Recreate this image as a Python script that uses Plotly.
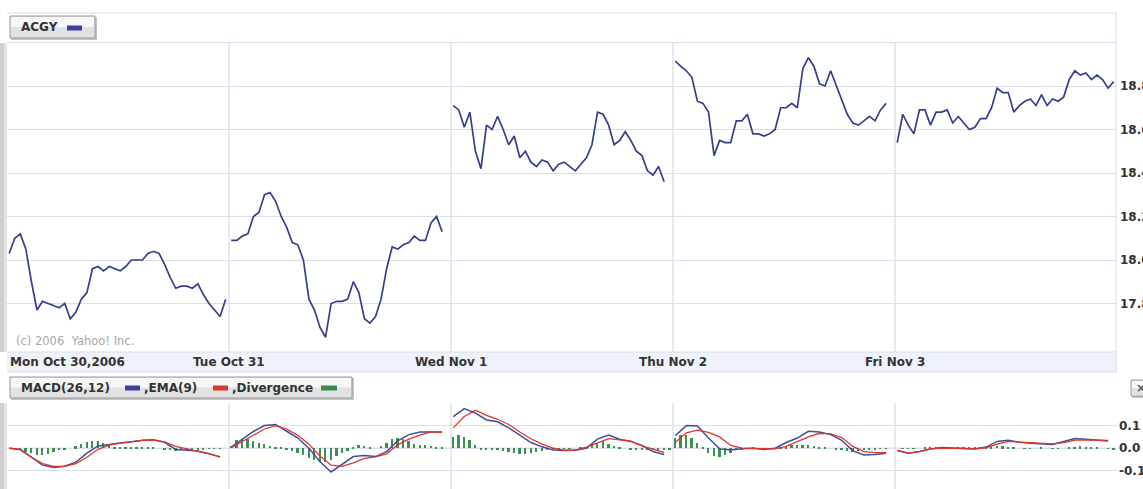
import plotly.graph_objects as go

# ---------------- data ----------------
day_labels = ["Mon Oct 30,2006", "Tue Oct 31", "Wed Nov 1", "Thu Nov 2", "Fri Nov 3"]
symbol = "ACGY"

# price every 10 minutes from 9:30 (40 samples per day, None = no trade)
price_mon = [18.03, 18.10, 18.12, 18.05, 17.90, 17.77, 17.81, 17.80, 17.79, 17.78,
             17.80, 17.73, 17.76, 17.82, 17.85, 17.96, 17.97, 17.95, 17.97, 17.96,
             17.95, 17.97, 18.00, 18.00, 18.00, 18.03, 18.04, 18.03, 17.98, 17.92,
             17.87, 17.88, 17.88, 17.87, 17.89, 17.84, 17.80, 17.77, 17.74, 17.82]
price_tue = [18.09, 18.09, 18.11, 18.12, 18.20, 18.22, 18.30, 18.31, 18.27, 18.20,
             18.15, 18.08, 18.07, 18.00, 17.82, 17.77, 17.69, 17.645, 17.80, 17.81,
             17.81, 17.82, 17.90, 17.85, 17.73, 17.71, 17.74, 17.82, 17.96, 18.06,
             18.05, 18.07, 18.08, 18.11, 18.09, 18.09, 18.17, 18.20, 18.13, None]
price_wed = [18.71, 18.69, 18.61, 18.68, 18.50, 18.42, 18.62, 18.60, 18.66, 18.60,
             18.53, 18.57, 18.47, 18.50, 18.45, 18.43, 18.46, 18.45, 18.41, 18.44,
             18.45, 18.43, 18.41, 18.44, 18.47, 18.53, 18.68, 18.67, 18.62, 18.53,
             18.55, 18.59, 18.55, 18.50, 18.48, 18.41, 18.39, 18.43, 18.36, None]
price_thu = [18.915, 18.89, 18.87, 18.84, 18.73, 18.72, 18.68, 18.48, 18.55, 18.54,
             18.54, 18.64, 18.64, 18.67, 18.58, 18.58, 18.57, 18.58, 18.60, 18.70,
             18.70, 18.72, 18.70, 18.88, 18.93, 18.89, 18.81, 18.80, 18.87, 18.80,
             18.73, 18.67, 18.63, 18.62, 18.64, 18.66, 18.64, 18.69, 18.72, None]
price_fri = [18.54, 18.67, 18.62, 18.58, 18.69, 18.69, 18.62, 18.68, 18.68, 18.69,
             18.63, 18.66, 18.63, 18.60, 18.61, 18.65, 18.65, 18.70, 18.79, 18.77,
             18.77, 18.68, 18.71, 18.73, 18.74, 18.71, 18.76, 18.71, 18.74, 18.73,
             18.75, 18.83, 18.87, 18.85, 18.86, 18.83, 18.85, 18.83, 18.79, 18.82]

# MACD(26,12) and EMA(9) every 20 minutes from 9:30 (20 samples per day)
macd_mon = [0.0, -0.007, -0.04, -0.075, -0.085, -0.08, -0.062, -0.022, 0.01, 0.018,
            0.023, 0.029, 0.035, 0.037, 0.026, -0.006, -0.01, -0.012, -0.024, -0.039]
macd_tue = [0.005, 0.04, 0.074, 0.10, 0.105, 0.075, 0.045, 0.0, -0.06, -0.105,
            -0.07, -0.037, -0.032, -0.037, -0.015, 0.033, 0.06, 0.072, 0.072, 0.072]
macd_wed = [0.14, 0.175, 0.155, 0.125, 0.117, 0.09, 0.058, 0.025, 0.006, -0.008,
            -0.01, -0.009, 0.0, 0.04, 0.058, 0.04, 0.03, 0.012, -0.015, -0.028]
macd_thu = [0.055, 0.10, 0.098, 0.045, -0.003, -0.008, -0.002, 0.0, -0.006, 0.0,
            0.025, 0.045, 0.075, 0.072, 0.06, 0.035, -0.012, -0.03, -0.028, -0.022]
macd_fri = [-0.01, -0.022, -0.015, -0.004, 0.003, 0.0, -0.003, -0.003, 0.005, 0.03,
            0.035, 0.026, 0.022, 0.02, 0.016, 0.03, 0.043, 0.04, 0.037, 0.032]

ema_mon = [0.0, -0.004, -0.04, -0.068, -0.08, -0.08, -0.068, -0.04, -0.005, 0.014,
           0.022, 0.029, 0.035, 0.036, 0.028, 0.008, -0.002, -0.013, -0.025, -0.038]
ema_tue = [0.002, 0.03, 0.06, 0.085, 0.10, 0.085, 0.057, 0.018, -0.035, -0.075,
           -0.08, -0.065, -0.045, -0.038, -0.025, 0.015, 0.04, 0.058, 0.072, 0.07]
ema_wed = [0.09, 0.14, 0.168, 0.145, 0.128, 0.105, 0.072, 0.042, 0.018, 0.0,
           -0.009, -0.008, 0.005, 0.025, 0.042, 0.037, 0.031, 0.01, -0.005, -0.018]
ema_thu = [0.025, 0.068, 0.08, 0.07, 0.05, 0.012, 0.0, -0.002, -0.004, -0.003,
           0.008, 0.028, 0.05, 0.066, 0.063, 0.047, 0.008, -0.015, -0.02, -0.02]
ema_fri = [-0.01, -0.022, -0.015, -0.003, 0.0, 0.0, -0.003, -0.003, 0.002, 0.018,
           0.03, 0.027, 0.022, 0.022, 0.019, 0.025, 0.036, 0.037, 0.037, 0.034]

# Divergence every 10 minutes from 9:30 (40 samples per day)
div_mon = [0.0, -0.003, -0.008, -0.015, -0.022, -0.028, -0.03, -0.025, -0.018, -0.01,
           -0.004, 0.0, 0.008, 0.018, 0.028, 0.034, 0.03, 0.022, 0.012, 0.006,
           0.004, 0.003, 0.002, 0.002, 0.002, 0.001, 0.001, 0.0, -0.004, -0.01,
           -0.012, -0.01, -0.009, -0.007, -0.005, -0.004, -0.003, -0.002, -0.001, 0.0]
div_tue = [0.01, 0.035, 0.042, 0.04, 0.032, 0.025, 0.018, 0.01, 0.005, 0.002,
           -0.005, -0.012, -0.02, -0.03, -0.042, -0.052, -0.06, -0.062, -0.05, -0.035,
           -0.02, -0.012, 0.005, 0.012, 0.01, 0.004, 0.0, 0.01, 0.025, 0.04,
           0.045, 0.04, 0.03, 0.02, 0.015, 0.012, 0.01, 0.005, 0.003, 0.0]
div_wed = [0.05, 0.06, 0.05, 0.035, 0.015, -0.004, -0.006, -0.004, -0.008, -0.014,
           -0.018, -0.022, -0.025, -0.025, -0.022, -0.018, -0.012, -0.008, -0.005, -0.003,
           -0.002, -0.001, 0.0, 0.002, 0.006, 0.015, 0.025, 0.03, 0.02, 0.01,
           0.003, 0.0, -0.004, -0.006, -0.008, -0.01, -0.01, -0.008, -0.006, -0.004]
div_thu = [0.045, 0.06, 0.058, 0.045, 0.025, 0.005, -0.02, -0.033, -0.037, -0.03,
           -0.02, -0.01, -0.004, 0.0, 0.002, 0.0, -0.002, -0.002, 0.0, 0.003,
           0.008, 0.012, 0.015, 0.015, 0.014, 0.01, 0.007, 0.004, 0.0, -0.004,
           -0.008, -0.012, -0.015, -0.014, -0.01, -0.008, -0.005, -0.003, -0.002, 0.0]
div_fri = [0.0, -0.002, -0.003, -0.002, 0.0, 0.001, 0.002, 0.001, 0.0, -0.001,
           0.0, 0.001, 0.002, 0.002, 0.003, 0.004, 0.006, 0.008, 0.01, 0.008,
           0.005, 0.002, 0.0, -0.002, -0.002, 0.0, 0.001, 0.0, -0.001, -0.002,
           0.0, 0.003, 0.006, 0.008, 0.006, 0.004, 0.002, 0.0, -0.002, -0.004]

price_ticks = [17.8, 18.0, 18.2, 18.4, 18.6, 18.8, 19.0]
price_ticktext = ["17.8", "18.0", "18.2", "18.4", "18.6", "18.8", ""]
macd_ticks = [-0.1, 0.0, 0.1, 0.2]
macd_ticktext = ["-0.1", "0.0", "0.1", ""]

# ---------------- layout constants ----------------
W, H = 1143, 489
L, R = 7, 1117          # plot area left/right in pixels
PW = R - L
SLOT = 400              # minutes per day slot on the x axis
PAD = 4                 # 9:30 open sits 4 minutes into the slot

def fx(px):
    return (px - L) / PW

def fy(py):
    return 1 - py / H

def build_xy(days, step):
    xs, ys = [], []
    for d, vals in enumerate(days):
        for k, v in enumerate(vals):
            xs.append(d * SLOT + PAD + step * k)
            ys.append(v)
        xs.append(None)
        ys.append(None)
    return xs, ys

px_x, px_y = build_xy([price_mon, price_tue, price_wed, price_thu, price_fri], 10)
m_x, m_y = build_xy([macd_mon, macd_tue, macd_wed, macd_thu, macd_fri], 20)
e_x, e_y = build_xy([ema_mon, ema_tue, ema_wed, ema_thu, ema_fri], 20)
d_x, d_y = build_xy([div_mon, div_tue, div_wed, div_thu, div_fri], 10)
d_pairs = [(a, b) for a, b in zip(d_x, d_y) if a is not None]

GRID = "#d9ddee"
VGRID = "#cdd4e4"
TXT = "#333333"
FONT = "DejaVu Sans"

fig = go.Figure()
fig.add_trace(go.Bar(x=[p[0] for p in d_pairs], y=[p[1] for p in d_pairs],
                     xaxis="x2", yaxis="y2", width=3.2,
                     marker=dict(color="#3f8f52", line=dict(width=0)),
                     showlegend=False, hoverinfo="skip"))
fig.add_trace(go.Scatter(x=m_x, y=m_y, xaxis="x2", yaxis="y2", mode="lines",
                         line=dict(color="#3d4f9f", width=1.5), connectgaps=False,
                         showlegend=False))
fig.add_trace(go.Scatter(x=e_x, y=e_y, xaxis="x2", yaxis="y2", mode="lines",
                         line=dict(color="#e0352b", width=1.3), connectgaps=False,
                         showlegend=False))
fig.add_trace(go.Scatter(x=px_x, y=px_y, mode="lines",
                         line=dict(color="#343f8d", width=1.7), connectgaps=False,
                         showlegend=False))

P_TOP, P_BOT = 13, 352
M_TOP = 403
p_lo = 18.8 - (P_BOT - 86) * 0.2 / 43.5
p_hi = 18.8 + (86 - P_TOP) * 0.2 / 43.5
m_hi = 0.2
m_lo = 0.2 - (H - M_TOP) * 0.1 / 22.6

tickfont = dict(family=FONT, size=12, color=TXT, weight="bold")

shapes = []
# left gray edge
for y0, y1 in [(43, P_BOT), (M_TOP, H)]:
    shapes.append(dict(type="rect", xref="paper", yref="paper", x0=fx(0), x1=fx(7),
                       y0=fy(y1), y1=fy(y0), fillcolor="#cfcfcf", line=dict(width=0), layer="below"))
    shapes.append(dict(type="rect", xref="paper", yref="paper", x0=fx(4), x1=fx(7),
                       y0=fy(y1), y1=fy(y0), fillcolor="#e4e4e4", line=dict(width=0), layer="below"))
# date band
shapes.append(dict(type="rect", xref="paper", yref="paper", x0=fx(L), x1=fx(R),
                   y0=fy(372), y1=fy(P_BOT), fillcolor="#eff2f9",
                   line=dict(width=0), layer="below"))
for yy in [P_TOP, P_BOT, 372]:
    shapes.append(dict(type="line", xref="paper", yref="paper", x0=fx(L), x1=fx(R),
                       y0=fy(yy), y1=fy(yy), line=dict(color=GRID, width=1), layer="below"))
shapes.append(dict(type="line", xref="paper", yref="paper", x0=fx(R - 1), x1=fx(R - 1),
                   y0=fy(372), y1=fy(P_TOP), line=dict(color=GRID, width=1), layer="below"))
# vertical day gridlines
for d in range(1, 5):
    shapes.append(dict(type="line", xref="x", yref="y", x0=d * SLOT, x1=d * SLOT,
                       y0=p_lo, y1=19.0, line=dict(color=VGRID, width=1), layer="below"))
    shapes.append(dict(type="line", xref="x2", yref="y2", x0=d * SLOT, x1=d * SLOT,
                       y0=m_lo, y1=m_hi, line=dict(color=VGRID, width=1), layer="below"))
# divergence baseline
shapes.append(dict(type="line", xref="paper", yref="y2", x0=0, x1=1, y0=0, y1=0,
                   line=dict(color="#a8dcb6", width=1), layer="below"))

def button(x0, y0, x1, y1):
    out = [
        dict(type="rect", xref="paper", yref="paper", x0=fx(x0 + 1), x1=fx(x1 + 2),
             y0=fy(y1 + 2), y1=fy(y0 + 1), fillcolor="#c4c4c4", line=dict(width=0)),
        dict(type="rect", xref="paper", yref="paper", x0=fx(x0), x1=fx(x1),
             y0=fy(y1), y1=fy(y0), fillcolor="#e2e2e2", line=dict(color="#9a9a9a", width=1)),
        dict(type="rect", xref="paper", yref="paper", x0=fx(x0 + 1), x1=fx(x1 - 1),
             y0=fy((y0 + y1) / 2), y1=fy(y0 + 1), fillcolor="#f7f7f7", line=dict(width=0)),
    ]
    return out

def swatch(x0, x1, yc, color):
    return dict(type="rect", xref="paper", yref="paper", x0=fx(x0), x1=fx(x1),
                y0=fy(yc + 2.5), y1=fy(yc - 2.5), fillcolor=color, line=dict(width=0))

shapes += button(10, 16, 95, 38)
shapes.append(swatch(67, 82, 28, "#3b3f9a"))
shapes += button(10, 377, 352, 398)
shapes.append(swatch(125, 140, 388, "#3b3f9a"))
shapes.append(swatch(213, 228, 388, "#d83a2a"))
shapes.append(swatch(321, 337, 388, "#3a8a4c"))
shapes += button(1131, 380, 1152, 396)

annotations = []
def label(text, xpx, ypx, size=12, color=TXT, bold=True, anchor="left", xref="paper", x=None):
    annotations.append(dict(
        text=text, xref=xref, yref="paper",
        x=fx(xpx) if x is None else x, y=fy(ypx),
        xanchor=anchor, yanchor="middle", showarrow=False,
        font=dict(family=FONT, size=size, color=color, weight="bold" if bold else "normal")))

label(symbol, 19, 27)
label("MACD(26,12)", 19, 388)
label(",EMA(9)", 142, 388)
label(",Divergence", 230, 388)
label("×", 1141, 388, size=12, color="#555555", anchor="center")
label("(c) 2006  Yahoo! Inc.", 14, 341, size=11.5, color="#a6a6a6", bold=False)
label(day_labels[0], 8, 362)
for d in range(1, 5):
    label(day_labels[d], 0, 362, anchor="center", xref="x", x=d * SLOT)

fig.update_layout(
    width=W, height=H,
    margin=dict(l=L, r=W - R, t=0, b=0, autoexpand=False),
    paper_bgcolor="white", plot_bgcolor="white",
    bargap=0,
    xaxis=dict(domain=[0, 1], range=[0, 5 * SLOT], visible=False, fixedrange=True,
               automargin=False),
    xaxis2=dict(domain=[0, 1], range=[0, 5 * SLOT], visible=False, anchor="y2",
                matches="x", automargin=False),
    yaxis=dict(domain=[fy(P_BOT), fy(P_TOP)], range=[p_lo, p_hi], side="right",
               tickvals=price_ticks, ticktext=price_ticktext, tickfont=tickfont,
               showgrid=True, gridcolor=GRID, gridwidth=1, zeroline=False,
               showline=False, ticks="", ticklabelstandoff=2, automargin=False),
    yaxis2=dict(domain=[0, fy(M_TOP)], range=[m_lo, m_hi], side="right", anchor="x2",
                tickvals=macd_ticks, ticktext=macd_ticktext, tickfont=tickfont,
                showgrid=True, gridcolor=GRID, gridwidth=1, zeroline=False,
                showline=False, ticks="", ticklabelstandoff=1, automargin=False),
    shapes=shapes,
    annotations=annotations,
    showlegend=False,
)

fig.write_html("out.html",
               config={"displayModeBar": False},
               post_script="document.body.style.margin='0';document.body.style.overflow='hidden';")
